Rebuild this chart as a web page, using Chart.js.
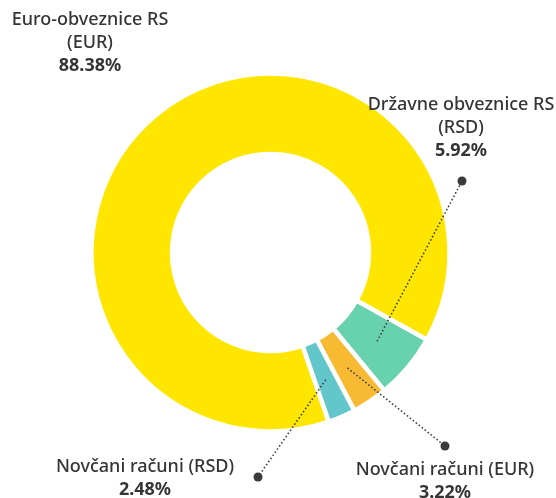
<!DOCTYPE html>
<html>
<head>
<meta charset="utf-8">
<script src="https://cdn.jsdelivr.net/npm/chart.js@4/dist/chart.umd.min.js"></script>
<style>
  html, body { margin: 0; padding: 0; background: #fff; }
  #wrap { width: 556px; height: 498px; position: relative; }
</style>
</head>
<body>
<div id="wrap"><canvas id="structure-chart"></canvas></div>
<script>
// values
const categories = [
  ["Euro-obveznice RS", "(EUR)"],
  ["Državne obveznice RS", "(RSD)"],
  ["Novčani računi (EUR)"],
  ["Novčani računi (RSD)"]
];
const shares = [88.38, 5.92, 3.22, 2.48];
const colors = ["#ffe600", "#68d1ad", "#f9ba33", "#63c6cb"];

// where each label sits (x centre, first line y) and where its leader dot goes
const labelSpots = [
  { x: 90, y: 20, dot: null },
  { x: 461, y: 105, dot: [462, 181] },
  { x: 445, y: 470, dot: [445, 446] },
  { x: 145, y: 467, dot: [258, 477] }
];

const textColor = "#353535";
const font = "'Noto Sans', sans-serif";

const calloutPlugin = {
  id: "callouts",
  afterDraw(chart) {
    const ctx = chart.ctx;
    const arcs = chart.getDatasetMeta(0).data;
    ctx.save();
    arcs.forEach((arc, i) => {
      const spot = labelSpots[i];
      if (spot.dot) {
        const c = arc.getCenterPoint();
        ctx.beginPath();
        ctx.setLineDash([1.6, 2.2]);
        ctx.lineWidth = 1.6;
        ctx.strokeStyle = "#444";
        ctx.moveTo(c.x, c.y);
        ctx.lineTo(spot.dot[0], spot.dot[1]);
        ctx.stroke();
        ctx.setLineDash([]);
        ctx.beginPath();
        ctx.fillStyle = "#3a3a3a";
        ctx.arc(spot.dot[0], spot.dot[1], 4.5, 0, Math.PI * 2);
        ctx.fill();
      }
      const lines = categories[i];
      ctx.fillStyle = textColor;
      ctx.textAlign = "center";
      ctx.textBaseline = "middle";
      ctx.font = "500 18px " + font;
      let y = spot.y;
      lines.forEach(t => {
        ctx.fillText(t, spot.x, y);
        y += 23;
      });
      ctx.font = "bold 18px " + font;
      ctx.fillText(shares[i].toFixed(2) + "%", spot.x, y);
    });
    ctx.restore();
  }
};

const chart = new Chart("structure-chart", {
  type: "doughnut",
  data: {
    labels: categories.map(l => l.join(" ")),
    datasets: [
      {
        data: shares,
        backgroundColor: colors,
        borderColor: "#ffffff",
        borderWidth: 4.5,
        hoverOffset: 0
      }
    ]
  },
  options: {
    responsive: true,
    maintainAspectRatio: false,
    animation: false,
    rotation: 161,
    radius: 179,
    cutout: "55%",
    layout: { padding: { left: 0, right: 15, top: 7, bottom: 0 } },
    plugins: {
      legend: { display: false },
      tooltip: { enabled: false }
    }
  },
  plugins: [calloutPlugin]
});
</script>
</body>
</html>
